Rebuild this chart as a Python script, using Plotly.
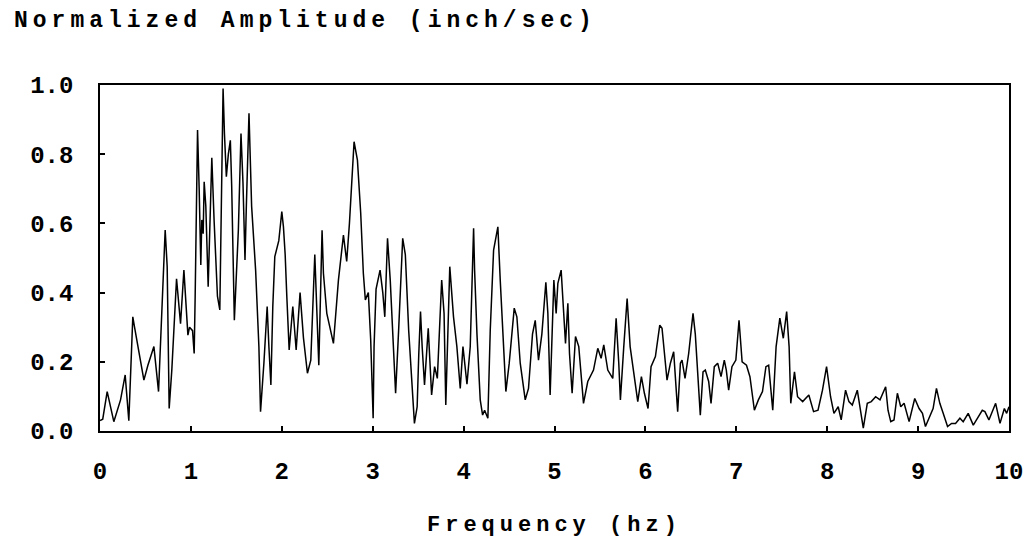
import plotly.graph_objects as go

# ---- data: frequency (Hz) and normalized amplitude ----
freq_0_2 = [0.0, 0.03, 0.079, 0.152, 0.226, 0.277, 0.317, 0.361, 0.38, 0.483, 0.527, 0.593, 0.644,
            0.692, 0.717, 0.739, 0.761, 0.79, 0.842, 0.886, 0.923, 0.967, 0.985, 1.018, 1.036,
            1.047, 1.073, 1.091, 1.109, 1.12, 1.135, 1.146, 1.164, 1.19, 1.208, 1.23, 1.255, 1.292,
            1.318, 1.354, 1.369, 1.39, 1.412, 1.434, 1.449, 1.478, 1.522, 1.551, 1.573, 1.595, 1.61,
            1.639, 1.668, 1.712, 1.748, 1.766, 1.803, 1.839, 1.858, 1.88, 1.901, 1.923, 1.967, 2.0]
amp_0_2 = [0.03, 0.034, 0.114, 0.027, 0.09, 0.162, 0.03, 0.33, 0.30, 0.147, 0.19, 0.244, 0.114,
           0.436, 0.581, 0.475, 0.065, 0.176, 0.44, 0.31, 0.465, 0.277, 0.30, 0.29, 0.224,
           0.39, 0.87, 0.70, 0.48, 0.61, 0.57, 0.72, 0.65, 0.417, 0.56, 0.79, 0.61, 0.39,
           0.35, 0.99, 0.86, 0.735, 0.80, 0.84, 0.706, 0.32, 0.58, 0.86, 0.716, 0.494, 0.65,
           0.918, 0.65, 0.465, 0.244, 0.056, 0.196, 0.36, 0.244, 0.133, 0.36, 0.504, 0.55, 0.634]

freq_2_4 = [2.018, 2.037, 2.055, 2.081, 2.121, 2.158, 2.201, 2.238, 2.282, 2.319, 2.363, 2.407, 2.443,
            2.458, 2.495, 2.568, 2.623, 2.678, 2.714, 2.744, 2.795, 2.832, 2.868, 2.897, 2.919, 2.952,
            2.978, 3.005, 3.015, 3.037, 3.081, 3.111, 3.133, 3.163, 3.193, 3.23, 3.252, 3.285, 3.33,
            3.359, 3.396, 3.459, 3.489, 3.507, 3.526, 3.544, 3.57, 3.611, 3.63, 3.648, 3.681, 3.711,
            3.759, 3.785, 3.804, 3.822, 3.848, 3.889, 3.926, 3.963, 3.993]
amp_2_4 = [0.59, 0.51, 0.39, 0.234, 0.36, 0.234, 0.40, 0.27, 0.167, 0.205, 0.51, 0.19, 0.58,
           0.456, 0.34, 0.253, 0.436, 0.566, 0.49, 0.60, 0.836, 0.783, 0.63, 0.456, 0.379, 0.40,
           0.263, 0.037, 0.244, 0.41, 0.465, 0.40, 0.33, 0.557, 0.436, 0.244, 0.109, 0.29, 0.557,
           0.51, 0.29, 0.022, 0.07, 0.224, 0.345, 0.244, 0.133, 0.297, 0.215, 0.104, 0.186, 0.152,
           0.436, 0.34, 0.075, 0.244, 0.475, 0.33, 0.244, 0.123, 0.244]

freq_4_6 = [4.037, 4.073, 4.11, 4.121, 4.147, 4.183, 4.209, 4.231, 4.267, 4.293, 4.33, 4.377, 4.403,
            4.44, 4.465, 4.502, 4.557, 4.586, 4.623, 4.678, 4.714, 4.758, 4.788, 4.824, 4.861, 4.905,
            4.927, 4.952, 4.971, 4.993, 5.018, 5.037, 5.073, 5.099, 5.121, 5.147, 5.165, 5.194, 5.231,
            5.267, 5.319, 5.366, 5.429, 5.476, 5.513, 5.542, 5.586, 5.641, 5.678, 5.707, 5.725, 5.762,
            5.799, 5.832, 5.879, 5.916, 5.956, 5.989]
amp_4_6 = [0.135, 0.244, 0.586, 0.465, 0.28, 0.09, 0.046, 0.06, 0.037, 0.29, 0.523, 0.59, 0.436,
           0.215, 0.114, 0.196, 0.355, 0.33, 0.196, 0.09, 0.123, 0.28, 0.32, 0.205, 0.28, 0.43,
           0.34, 0.104, 0.244, 0.436, 0.34, 0.427, 0.465, 0.34, 0.253, 0.369, 0.224, 0.109, 0.273,
           0.244, 0.08, 0.143, 0.176, 0.239, 0.21, 0.249, 0.176, 0.152, 0.326, 0.196, 0.09, 0.244,
           0.383, 0.244, 0.147, 0.085, 0.157, 0.109]

freq_6_8 = [6.029, 6.062, 6.11, 6.158, 6.183, 6.209, 6.238, 6.275, 6.311, 6.355, 6.385, 6.403, 6.436,
            6.476, 6.524, 6.549, 6.575, 6.604, 6.634, 6.659, 6.696, 6.722, 6.758, 6.795, 6.832, 6.868,
            6.89, 6.916, 6.952, 6.995, 7.03, 7.064, 7.112, 7.15, 7.199, 7.243, 7.288, 7.326, 7.356,
            7.401, 7.438, 7.479, 7.517, 7.554, 7.581, 7.599, 7.64, 7.674, 7.73, 7.798, 7.85, 7.899,
            7.948, 7.993]
amp_6_8 = [0.065, 0.186, 0.215, 0.306, 0.297, 0.215, 0.147, 0.196, 0.229, 0.056, 0.196, 0.205, 0.152,
           0.224, 0.34, 0.28, 0.167, 0.046, 0.171, 0.176, 0.143, 0.08, 0.186, 0.196, 0.157, 0.205,
           0.176, 0.118, 0.186, 0.205, 0.32, 0.20, 0.19, 0.157, 0.06, 0.09, 0.114, 0.186, 0.19,
           0.06, 0.244, 0.326, 0.268, 0.345, 0.244, 0.08, 0.171, 0.099, 0.085, 0.104, 0.056, 0.06,
           0.118, 0.186]

freq_8_10 = [8.037, 8.074, 8.121, 8.154, 8.202, 8.239, 8.276, 8.331, 8.397, 8.441, 8.485, 8.533, 8.581,
             8.643, 8.669, 8.699, 8.735, 8.772, 8.809, 8.846, 8.901, 8.963, 9.011, 9.048, 9.081, 9.129,
             9.165, 9.202, 9.239, 9.276, 9.324, 9.368, 9.412, 9.46, 9.496, 9.551, 9.607, 9.662, 9.706,
             9.735, 9.779, 9.853, 9.901, 9.949, 9.974, 10.0]
amp_8_10 = [0.099, 0.051, 0.07, 0.032, 0.118, 0.085, 0.075, 0.118, 0.008, 0.08, 0.085, 0.099, 0.09,
            0.128, 0.06, 0.027, 0.032, 0.109, 0.07, 0.08, 0.027, 0.094, 0.065, 0.051, 0.013, 0.041,
            0.065, 0.123, 0.08, 0.051, 0.013, 0.022, 0.022, 0.037, 0.027, 0.051, 0.017, 0.041, 0.06,
            0.056, 0.032, 0.08, 0.022, 0.065, 0.051, 0.07]

x_ticks = [0, 1, 2, 3, 4, 5, 6, 7, 8, 9, 10]
y_ticks = [0.0, 0.2, 0.4, 0.6, 0.8, 1.0]
title_text = "Normalized Amplitude (inch/sec)"
xtitle_text = "Frequency (hz)"

freq = freq_0_2 + freq_2_4 + freq_4_6 + freq_6_8 + freq_8_10
amp = amp_0_2 + amp_2_4 + amp_4_6 + amp_6_8 + amp_8_10

FONT = "Liberation Mono, Courier New, monospace"

fig = go.Figure()
fig.add_trace(go.Scatter(x=freq, y=amp, mode="lines",
                         line=dict(color="black", width=1.5), showlegend=False,
                         hoverinfo="skip"))

fig.update_layout(
    width=1034, height=542,
    margin=dict(l=100, r=25, t=85, b=111),
    paper_bgcolor="white", plot_bgcolor="white",
    showlegend=False,
)

fig.update_xaxes(range=[0, 10], tickvals=x_ticks, ticktext=[str(v) for v in x_ticks],
                 ticks="inside", ticklen=5, tickwidth=1.5, tickcolor="black",
                 showline=True, linecolor="black", linewidth=1.6, mirror=True,
                 showgrid=False, zeroline=False, ticklabelstandoff=17,
                 tickfont=dict(family=FONT, size=24, color="black", weight="bold"))
fig.update_yaxes(range=[0, 1], tickvals=y_ticks, ticktext=["%.1f" % v for v in y_ticks],
                 ticks="inside", ticklen=5, tickwidth=1.5, tickcolor="black",
                 showline=True, linecolor="black", linewidth=1.6, mirror=True,
                 showgrid=False, zeroline=False, ticklabelstandoff=20,
                 tickfont=dict(family=FONT, size=24, color="black", weight="bold"))

fig.add_annotation(text=title_text, xref="paper", yref="paper",
                   x=(12 - 100) / 909, y=1, xanchor="left", yanchor="middle", yshift=64,
                   align="left", showarrow=False,
                   font=dict(family=FONT, size=23, color="black", weight="bold"))
fig.add_annotation(text=xtitle_text, xref="paper", yref="paper",
                   x=0.5, y=0, xanchor="center", yanchor="middle", yshift=-94,
                   align="center", showarrow=False,
                   font=dict(family=FONT, size=22, color="black", weight="bold"))

post = """
var gd = document.getElementById('{plot_id}');
gd.querySelectorAll('.annotation-text').forEach(function(t){ t.style.letterSpacing = '5px'; });
"""

fig.write_html("out.html", post_script=post)
